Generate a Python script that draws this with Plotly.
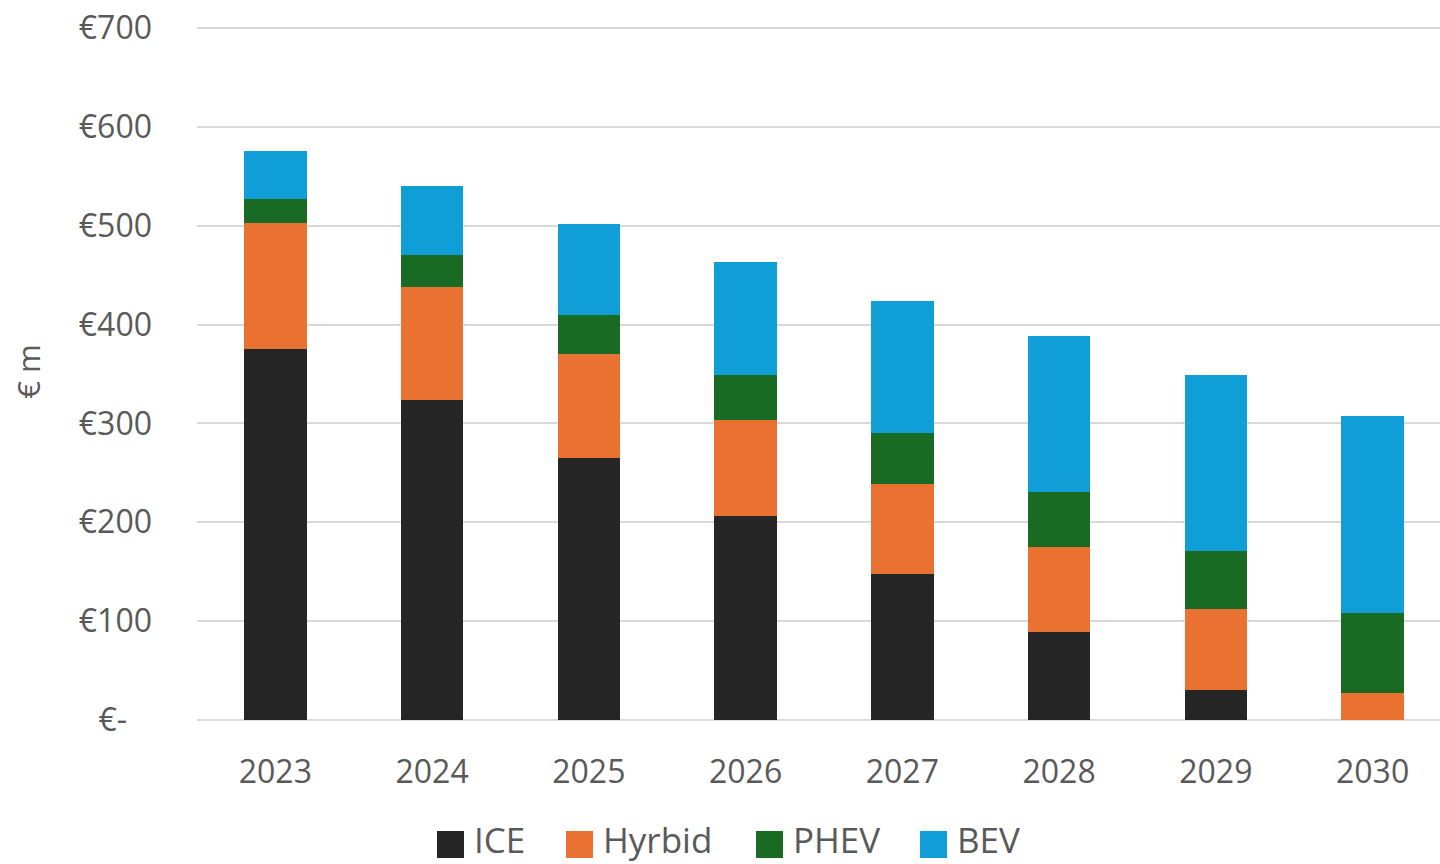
import plotly.graph_objects as go

# Market value by powertrain, € m
years = ["2023", "2024", "2025", "2026", "2027", "2028", "2029", "2030"]
ice = [375, 324, 265, 206, 148, 89, 30, 0]
hybrid = [128, 114, 105, 97, 91, 86, 82, 27]
phev = [24, 32, 40, 46, 51, 56, 59, 81]
bev = [49, 70, 92, 114, 134, 157, 178, 200]

series_names = ["ICE", "Hyrbid", "PHEV", "BEV"]
series_values = [ice, hybrid, phev, bev]
series_colors = ["#262626", "#E97132", "#196B24", "#0F9ED5"]

y_ticks = [0, 100, 200, 300, 400, 500, 600, 700]
y_tick_text = ["€-\u00a0\u00a0\u00a0", "€100", "€200", "€300", "€400", "€500", "€600", "€700"]

FONT = "Open Sans"
TEXT = "#595959"
GRID = "#D9D9D9"

fig = go.Figure()
for name, vals, col in zip(series_names, series_values, series_colors):
    fig.add_trace(go.Bar(
        x=years, y=vals, name=name,
        marker=dict(color=col, line=dict(width=0)),
        width=0.4, showlegend=False,
    ))

# Legend drawn as square swatches with labels under the plot
legend_swatch_x = [437, 566, 756, 920]
W, H = 1440, 864
L, R, T, B = 197, 0, 23, 144
pw, ph = W - L - R, H - T - B
def px_x(p):
    return (p - L) / pw
def px_y(p):
    return (H - B - p) / ph

for name, col, sx in zip(series_names, series_colors, legend_swatch_x):
    fig.add_shape(type="rect", xref="paper", yref="paper",
                  x0=px_x(sx), x1=px_x(sx + 27), y0=px_y(858), y1=px_y(831),
                  fillcolor=col, line=dict(width=0))
    fig.add_annotation(xref="paper", yref="paper", x=px_x(sx + 35), y=px_y(839),
                       text=name, showarrow=False, xanchor="left", yanchor="middle",
                       font=dict(family=FONT, size=35, color=TEXT))

fig.update_layout(
    width=W, height=H,
    margin=dict(l=L, r=R, t=T, b=B),
    barmode="stack",
    plot_bgcolor="white", paper_bgcolor="white",
    font=dict(family=FONT, color=TEXT),
    xaxis=dict(
        type="category", range=[-0.5, 7.43],
        showgrid=False, showline=False, zeroline=False, ticks="",
        tickfont=dict(size=32, color=TEXT), ticklabelstandoff=30,
    ),
    yaxis=dict(
        range=[0, 705.06], tickvals=y_ticks, ticktext=y_tick_text,
        showgrid=True, gridcolor=GRID, gridwidth=2,
        zeroline=True, zerolinecolor=GRID, zerolinewidth=2,
        showline=False, ticks="",
        tickfont=dict(size=32, color=TEXT), ticklabelstandoff=44,
        title=dict(text="€ m", font=dict(size=31, color=TEXT), standoff=28),
    ),
)

fig.write_html("out.html")
